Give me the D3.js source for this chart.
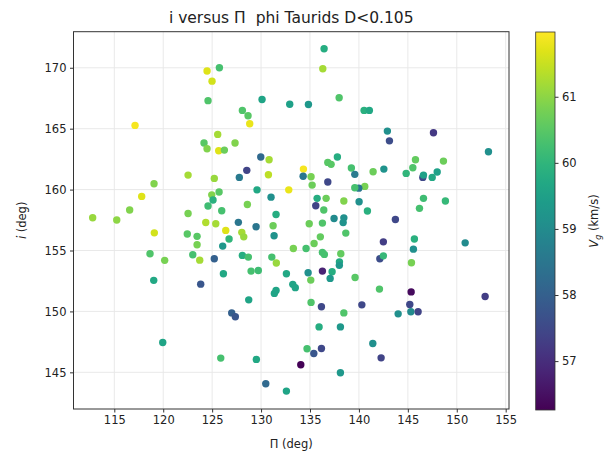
<!DOCTYPE html>
<html>
<head>
<meta charset="utf-8">
<script src="https://cdn.jsdelivr.net/npm/d3@7"></script>
<style>
  body { margin: 0; background: #fff; }
  svg { font-family: "DejaVu Sans", sans-serif; }
  text { white-space: pre; }
</style>
</head>
<body>
<div id="chart"></div>
<script>
// donnees : Pi (deg), i (deg), Vg (km/s)
var piVals = [124.48,125.74,124.99,124.58,130.1,132.93,128.09,128.67,128.84,117.12,
  125.57,124.17,124.48,125.67,126.25,127.34,129.97,130.82,128.54,130.75,
  127.78,132.83,129.59,131.02,122.54,125.22,119.06,117.8,124.96,125.71,
  125.09,124.58,125.98,128.6,131.53,116.57,115.25,112.79,122.54,124.35,
  125.37,126.39,127.68,129.49,131.23,131.33,128.03,128.23,126.73,126.08,
  122.46,123.46,123.46,123.02,123.73,125.22,126.15,128.09,128.7,128.98,
  129.72,131.1,131.56,132.59,119.03,118.65,120.15,123.83,128.74,131.36,
  131.53,127.0,127.37,119.95,125.88,129.52,130.48,132.59,119.09,136.44,
  136.31,134.84,137.98,140.53,141.07,142.91,143.12,147.62,153.24,137.8,
  136.82,137.16,134.33,134.3,135.11,135.22,136.82,139.23,139.58,141.45,
  142.55,144.83,145.51,145.78,146.53,146.6,147.49,148.0,148.64,146.6,
  146.19,148.84,145.67,145.57,150.86,145.37,145.34,152.9,145.2,145.31,
  146.05,144.01,140.3,138.46,136.17,135.11,135.93,138.11,141.42,142.27,
  136.17,135.39,134.7,134.06,138.11,140.6,139.99,139.58,140.02,140.87,
  138.46,135.73,136.65,135.59,136.41,137.46,138.46,138.39,143.73,134.92,
  136.27,138.66,136.06,135.42,134.6,133.3,136.27,136.47,138.15,138.01,
  138.0,137.26,137.06,136.27,134.81,135.08,133.24,133.5,139.61,142.1,
  142.5,142.14,142.5];
var incVals = [169.73,170.0,168.9,167.3,167.4,167.0,166.5,166.06,165.4,165.27,
  164.53,163.82,163.35,163.19,163.24,163.82,162.67,162.45,161.58,161.22,
  161.0,159.98,159.98,159.38,161.19,160.92,160.48,159.44,159.57,159.8,
  159.14,158.65,158.26,158.78,157.96,158.32,157.5,157.69,158.04,157.3,
  157.19,156.65,157.31,156.95,157.03,156.21,156.49,156.12,155.94,155.36,
  156.35,156.16,155.47,154.65,154.21,154.32,153.09,154.6,154.46,153.31,
  153.36,154.46,153.97,153.09,152.55,154.73,154.19,152.24,150.95,151.48,
  151.72,149.88,149.56,147.45,146.17,146.06,144.06,143.46,156.45,171.56,
  169.92,166.99,167.54,166.5,166.5,164.8,164.0,164.66,163.1,162.67,
  162.23,162.07,161.68,161.1,161.05,160.37,160.62,161.77,161.25,161.46,
  161.68,161.33,161.79,162.45,161.0,161.19,161.0,161.44,162.34,159.28,
  158.46,159.06,155.94,155.11,155.63,153.99,151.6,151.23,150.57,149.97,
  149.97,149.8,150.54,149.88,150.38,150.74,148.73,148.73,147.37,146.19,
  146.96,146.55,146.93,145.62,144.96,160.26,160.12,160.15,159.0,158.24,
  159.06,159.28,159.28,158.67,158.32,157.63,157.68,157.29,157.55,157.19,
  157.25,156.43,156.12,155.58,155.17,155.17,154.84,154.68,154.73,154.07,
  153.78,153.25,152.71,153.31,153.17,152.57,152.22,151.95,152.79,151.83,
  155.71,154.32,154.56];
var vgVals = [61.7,60.3,61.6,60.4,59.6,59.5,60.4,60.5,61.8,61.9,
  61.2,60.5,60.9,61.7,60.7,60.9,58.2,61.2,57.4,61.4,
  58.6,61.8,59.7,59.1,61.2,61.1,60.9,61.7,60.9,60.5,
  59.9,60.2,60.3,60.8,59.8,60.9,61.0,61.1,60.8,61.3,
  61.2,61.7,58.5,58.5,60.7,59.2,61.2,61.1,60.0,59.3,
  60.5,60.5,60.8,60.3,61.2,58.0,59.7,59.8,60.3,60.3,
  60.2,60.3,61.1,59.7,59.7,60.4,60.8,57.8,59.6,59.6,
  59.6,58.0,57.8,59.6,60.3,59.7,58.2,59.6,61.6,59.8,
  61.2,59.3,60.4,59.9,59.7,59.1,57.6,57.2,59.1,59.8,
  60.5,60.5,61.9,58.5,60.8,60.7,57.5,60.3,58.6,60.7,
  59.2,60.0,60.4,60.6,57.5,59.5,59.7,59.5,60.7,60.2,
  60.3,60.1,59.9,59.1,59.0,60.8,56.4,57.3,57.5,59.0,
  57.4,59.1,57.5,60.4,57.5,60.4,59.8,59.3,59.1,57.4,
  57.5,57.8,60.3,56.3,59.3,60.8,58.5,60.3,59.1,59.9,
  60.9,59.8,60.7,57.4,60.4,59.0,59.1,59.2,57.5,60.7,
  60.4,60.4,60.6,60.7,60.3,60.8,60.3,60.3,60.6,59.7,
  59.3,59.8,59.3,56.8,59.1,60.7,59.6,59.6,60.5,60.4,
  57.3,57.6,60.1];

var xTicks = [115,120,125,130,135,140,145,150,155];
var yTicks = [145,150,155,160,165,170];
var cTicks = [57,58,59,60,61];
var xDomain = [110.83,155.34];
var yDomain = [141.99,172.96];
var cDomain = [56.26,61.98];

var W = 610, H = 455;
var g = {gauche:73.5, droite:509, haut:31.7, bas:409};
var policeTick = 11.5;

var svg = d3.select("#chart").append("svg")
  .attr("width", W).attr("height", H);

var x = d3.scaleLinear().domain(xDomain).range([g.gauche, g.droite]);
var y = d3.scaleLinear().domain(yDomain).range([g.bas, g.haut]);
var couleur = d3.scaleSequential(d3.interpolateViridis).domain(cDomain);

// grille
svg.append("g").selectAll("line").data(xTicks).enter().append("line")
  .attr("x1", d => x(d)).attr("x2", d => x(d))
  .attr("y1", g.haut).attr("y2", g.bas)
  .attr("stroke", "#e6e6e6").attr("stroke-width", 0.9);
svg.append("g").selectAll("line").data(yTicks).enter().append("line")
  .attr("x1", g.gauche).attr("x2", g.droite)
  .attr("y1", d => y(d)).attr("y2", d => y(d))
  .attr("stroke", "#e6e6e6").attr("stroke-width", 0.9);

// points
var points = d3.range(piVals.length).map(function(k) {
  return {p: piVals[k], i: incVals[k], v: vgVals[k]};
});
svg.append("g").selectAll("circle").data(points).enter().append("circle")
  .attr("cx", d => x(d.p))
  .attr("cy", d => y(d.i))
  .attr("r", 3.7)
  .attr("fill", d => couleur(d.v));

// axes
var axeX = svg.append("g").attr("transform", "translate(0," + g.bas + ")")
  .call(d3.axisBottom(x).tickValues(xTicks).tickSize(3.5).tickPadding(3.5));
var axeY = svg.append("g").attr("transform", "translate(" + g.gauche + ",0)")
  .call(d3.axisLeft(y).tickValues(yTicks).tickSize(3.5).tickPadding(3.5));
[axeX, axeY].forEach(function(a) {
  a.select(".domain").remove();
  a.selectAll("text").attr("font-size", policeTick).attr("fill", "#222")
    .attr("font-family", "DejaVu Sans");
  a.selectAll("line").attr("stroke", "#333");
});

svg.append("rect")
  .attr("x", g.gauche).attr("y", g.haut)
  .attr("width", g.droite - g.gauche).attr("height", g.bas - g.haut)
  .attr("fill", "none").attr("stroke", "#333").attr("stroke-width", 1);

// titres
svg.append("text")
  .attr("x", (g.gauche + g.droite) / 2).attr("y", 23)
  .attr("text-anchor", "middle").attr("font-size", 15.5).attr("fill", "#222")
  .text("i versus \u03a0  phi Taurids D<0.105");

svg.append("text")
  .attr("x", (g.gauche + g.droite) / 2).attr("y", 448)
  .attr("text-anchor", "middle").attr("font-size", policeTick).attr("fill", "#222")
  .text("\u03a0 (deg)");

var ty = svg.append("text")
  .attr("transform", "translate(26," + ((g.haut + g.bas) / 2) + ") rotate(-90)")
  .attr("text-anchor", "middle").attr("font-size", policeTick).attr("fill", "#222");
ty.append("tspan").attr("font-style", "italic").text("i");
ty.append("tspan").text(" (deg)");

// barre de couleur
var cb = {x: 535.7, w: 19.3, haut: 32, bas: 410};
var c = d3.scaleLinear().domain(cDomain).range([cb.bas, cb.haut]);
var defs = svg.append("defs");
var grad = defs.append("linearGradient").attr("id", "viridis")
  .attr("x1", 0).attr("y1", 1).attr("x2", 0).attr("y2", 0);
d3.range(0, 1.0001, 0.05).forEach(function(t) {
  grad.append("stop").attr("offset", t).attr("stop-color", d3.interpolateViridis(t));
});
svg.append("rect")
  .attr("x", cb.x).attr("y", cb.haut).attr("width", cb.w).attr("height", cb.bas - cb.haut)
  .attr("fill", "url(#viridis)").attr("stroke", "#333").attr("stroke-width", 0.8);

var axeC = svg.append("g").attr("transform", "translate(" + (cb.x + cb.w) + ",0)")
  .call(d3.axisRight(c).tickValues(cTicks).tickFormat(d3.format("d")).tickSize(3.5).tickPadding(3.5));
axeC.select(".domain").remove();
axeC.selectAll("text").attr("font-size", policeTick).attr("fill", "#222").attr("font-family", "DejaVu Sans");
axeC.selectAll("line").attr("stroke", "#333");

var tc = svg.append("text")
  .attr("transform", "translate(598," + ((cb.haut + cb.bas) / 2) + ") rotate(-90)")
  .attr("text-anchor", "middle").attr("font-size", policeTick).attr("fill", "#222");
tc.append("tspan").attr("font-style", "italic").text("V");
tc.append("tspan").attr("font-style", "italic").attr("font-size", 8).attr("dy", 2.8).text("g");
tc.append("tspan").attr("dy", -2.8).text(" (km/s)");
</script>
</body>
</html>
